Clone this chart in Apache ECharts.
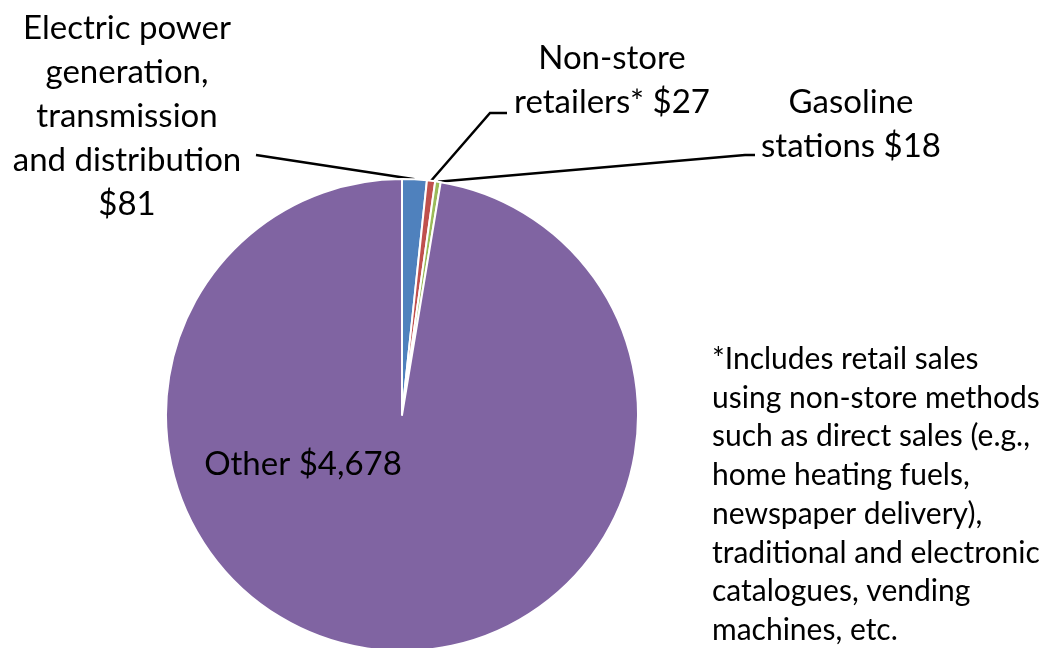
<!DOCTYPE html>
<html>
<head>
<meta charset="utf-8">
<script src="https://cdn.jsdelivr.net/npm/echarts@6/dist/echarts.min.js"></script>
<style>html,body{margin:0;padding:0;background:#fff;}#main{width:1049px;height:648px;}</style>
</head>
<body>
<div id="main"></div>
<script>
const categories = ['Electric power\ngeneration,\ntransmission\nand distribution', 'Non-store\nretailers*', 'Gasoline\nstations', 'Other'];
const values = [81, 27, 18, 4678];
const colors = ['#4F81BD', '#C0504D', '#9BBB59', '#8064A2'];
const footnote = '*Includes retail sales\nusing non-store methods\nsuch as direct sales (e.g.,\nhome heating fuels,\nnewspaper delivery),\ntraditional and electronic\ncatalogues, vending\nmachines, etc.';

const FONT = 'Lato';
const chart = echarts.init(document.getElementById('main'));

function fmtVal(v) { return '$' + v.toLocaleString('en-US'); }

const labelPos = [
  { x: 127, y: 116, elbow: [256, 155] },
  { x: 612, y: 80, elbow: [490, 113], end: [507, 113] },
  { x: 851, y: 124, elbow: [745, 155], end: [755, 155] },
  { x: 303, y: 464 }
];

chart.setOption({
  animation: false,
  title: {
    text: footnote,
    left: 707, top: 335,
    textStyle: { fontFamily: FONT, fontSize: 30, fontWeight: 'normal', color: '#000', lineHeight: 38.7 }
  },
  series: [{
    type: 'pie',
    center: [402, 415],
    radius: 236,
    startAngle: 90,
    clockwise: true,
    avoidLabelOverlap: false,
    itemStyle: { borderColor: '#fff', borderWidth: 2 },
    label: {
      show: true,
      fontFamily: FONT, fontSize: 33, color: '#000', lineHeight: 44,
      align: 'center',
      formatter: p => p.dataIndex === 0 ? categories[p.dataIndex] + '\n' + fmtVal(p.value)
        : categories[p.dataIndex] + ' ' + fmtVal(p.value)
    },
    labelLine: { show: true, lineStyle: { color: '#000', width: 2.5 }, length: 10, length2: 10 },
    labelLayout: function (params) {
      const i = params.dataIndex;
      const lp = labelPos[i];
      const res = { x: lp.x, y: lp.y, align: 'center', verticalAlign: 'middle' };
      if (params.labelLinePoints && lp.elbow) {
        const start = params.labelLinePoints[0];
        const end = lp.end || lp.elbow;
        res.labelLinePoints = [start, lp.elbow, end];
      }
      return res;
    },
    data: categories.map((c, i) => ({
      name: c, value: values[i],
      itemStyle: { color: colors[i] },
      labelLine: { show: i !== 3 }
    }))
  }]
});
</script>
</body>
</html>
